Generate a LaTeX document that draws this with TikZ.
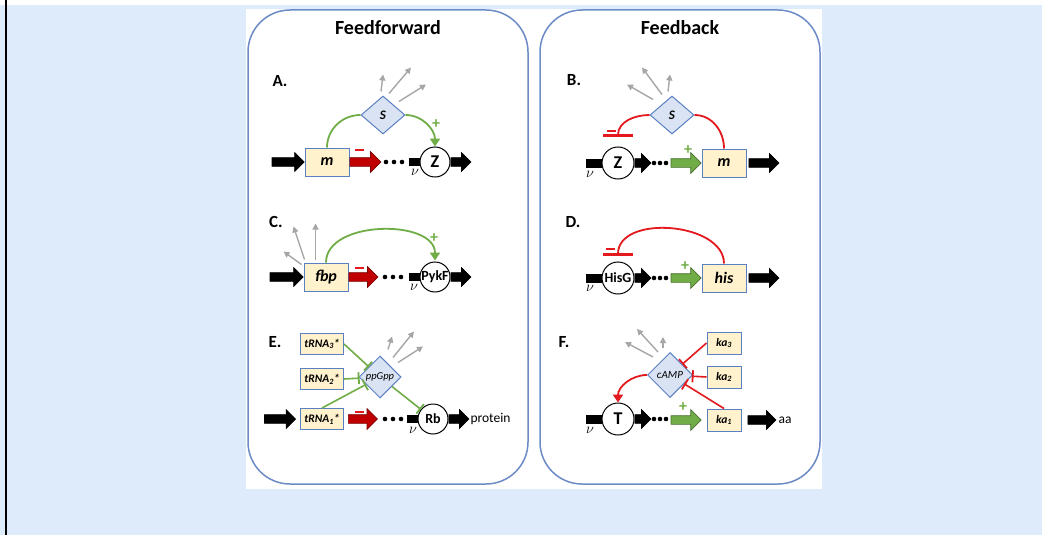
\documentclass[tikz,border=0pt]{standalone}
\usepackage{fontspec}
\setmainfont{Carlito}
\usetikzlibrary{shapes.geometric,shapes.arrows,arrows.meta}

\definecolor{pagebg}{HTML}{DDEBFB}
\definecolor{frameblue}{HTML}{6D8BC6}
\definecolor{genefill}{HTML}{FFF2CC}
\definecolor{geneline}{HTML}{5B80C2}
\definecolor{sigfill}{HTML}{DAE3F3}
\definecolor{actgreen}{HTML}{70AD47}
\definecolor{repred}{HTML}{E3191E}
\definecolor{arrowred}{HTML}{C00000}
\definecolor{decaygray}{HTML}{A6A6A6}

\tikzset{
  paneltitle/.style={font=\fontsize{20}{24}\selectfont\bfseries},
  panellabel/.style={font=\fontsize{17}{20}\selectfont\bfseries},
  gene/.style={rectangle, draw=geneline, fill=genefill, line width=1pt, minimum width=44pt, minimum height=28pt, inner sep=0pt, font=\fontsize{16}{18}\selectfont\bfseries\itshape},
  tag/.style={gene, minimum width=43pt, minimum height=21pt, font=\fontsize{11.5}{12}\selectfont\bfseries\itshape},
  metab/.style={diamond, draw=geneline, fill=sigfill, line width=1pt, inner sep=0pt, minimum width=44pt, minimum height=38pt, font=\fontsize{13}{14}\selectfont\bfseries\itshape},
  enzyme/.style={circle, draw, fill=white, line width=1pt, inner sep=0pt, minimum size=30pt, font=\fontsize{18}{20}\selectfont\bfseries},
  fat/.style={single arrow, single arrow head extend=5pt, inner xsep=0pt, inner ysep=4pt, line width=0.7pt},
  fatblk/.style={fat, fill=black, draw=black},
  fatred/.style={fat, single arrow head extend=6pt, fill=arrowred, draw=arrowred!65!black},
  fatgrn/.style={fat, single arrow head extend=6pt, fill=actgreen, draw=actgreen!65!black},
  link/.style={line width=1.8pt},
  act/.style={link, -{Triangle[width=10pt,length=8pt]}},
  inh/.style={link, -{Bar[width=30pt,line width=2.2pt]}},
  inhsmall/.style={line width=1.6pt, -{Bar[width=12pt,line width=1.8pt]}},
  decay/.style={decaygray, line width=1.4pt, -{Triangle[width=6pt,length=6pt]}},
  plussign/.style={text=actgreen, inner sep=0pt, font=\fontsize{16}{16}\selectfont\bfseries},
  minussign/.style={fill=repred, inner sep=0pt, minimum width=9pt, minimum height=2.6pt},
  rate/.style={inner sep=0pt, font=\fontsize{14}{14}\selectfont},
}

\begin{document}
\begin{tikzpicture}[x=1pt, y=-1pt]
    \useasboundingbox (0,0) rectangle (1042,535);
    \fill[white] (0,0) rectangle (1042,535);
    \fill[pagebg] (0,5) rectangle (1042,535);
    \draw[line width=2pt] (6,0) -- (6,535);
    \fill[white] (246,9) rectangle (822,489);
    \draw[frameblue, line width=1.5pt, rounded corners=42pt] (248,10) rectangle (528,484);
    \draw[frameblue, line width=1.5pt, rounded corners=42pt] (540,10) rectangle (820,484);
    \node[paneltitle] (ffTitle) at (388,28) {Feedforward};
    \node[paneltitle] (fbTitle) at (680,28) {Feedback};

    % A: m feeds forward through S onto Z
    \node[panellabel] (labA) at (280,81) {A.};
    \node[gene] (mA) at (327,162) {m};
    \node[metab] (sA) at (383,115) {S};
    \node[enzyme] (zA) at (435,162) {Z};
    \node[fatblk, minimum height=32pt, anchor=tip] (inA) at (mA.west) {};
    \node[fatred, minimum height=31pt, anchor=tail] (redA) at (mA.east) {};
    \coordinate (dA) at (394,162);
    \fill ([shift={(-11,-4)}]zA.west) rectangle ([shift={(0,4)}]zA.west);
    \node[fatblk, minimum height=20pt, anchor=tail] (outA) at (zA.east) {};
    \node[rate] (nuA) at (415,172) {$\nu$};
    \node[minussign] (negA) at (359,150) {};
    \node[plussign] (posA) at (436,124) {+};
    \draw[actgreen, link] (mA.north) to[out=90, in=180] (sA.west);
    \draw[actgreen, act] (sA.east) to[out=0, in=90] (zA.north);
    \foreach \dx in {-8,0,8} \fill ([shift={(\dx,0)}]dA) circle (2.3);
    \draw[decay] ([shift={(-2,-4)}]sA.north) -- ++(2,-17);
    \draw[decay] ([shift={(6,-2)}]sA.north) -- ++(22,-26);
    \draw[decay] ([shift={(16,6)}]sA.north) -- ++(27,-17);

    % B: Z feeds back through S onto m
    \node[panellabel] (labB) at (574,80) {B.};
    \node[metab] (sB) at (672,115) {S};
    \node[enzyme, minimum size=32pt] (zB) at (618,163) {Z};
    \node[gene] (mB) at (724,163) {m};
    \fill ([shift={(-16,-4.5)}]zB.west) rectangle ([shift={(0,4.5)}]zB.west);
    \node[fatblk, minimum height=16pt, anchor=tail] (midB) at (zB.east) {};
    \coordinate (dB) at (660,163);
    \node[fatgrn, minimum height=30pt, anchor=tip] (grnB) at (mB.west) {};
    \node[fatblk, minimum height=30pt, anchor=tail] (outB) at ([shift={(2,0)}]mB.east) {};
    \node[rate] (nuB) at (590,174) {$\nu$};
    \node[minussign] (negB) at (611,131) {};
    \node[plussign] (posB) at (688,150) {+};
    \draw[repred, inh] (sB.west) to[out=180, in=90] ([shift={(0,-10)}]zB.north);
    \draw[repred, link] (sB.east) to[out=0, in=90] (mB.north);
    \foreach \dx in {-6,0,6} \fill ([shift={(\dx,0)}]dB) circle (2.3);
    \draw[decay] ([shift={(-4,-4)}]sB.north) -- ++(2,-17);
    \draw[decay] ([shift={(-10,-1)}]sB.north) -- ++(-20,-27);
    \draw[decay] ([shift={(-19,4)}]sB.north) -- ++(-26,-15);

    % C: fbp activates PykF
    \node[panellabel] (labC) at (276,222) {C.};
    \node[gene] (fbp) at (326,277) {fbp};
    \node[enzyme, font=\fontsize{14}{14}\selectfont\bfseries] (pykF) at (435,277) {PykF};
    \node[fatblk, minimum height=33pt, anchor=tip] (inC) at (fbp.west) {};
    \node[fatred, minimum height=29pt, anchor=tail] (redC) at (fbp.east) {};
    \coordinate (dC) at (393,277);
    \fill ([shift={(-11,-4)}]pykF.west) rectangle ([shift={(0,4)}]pykF.west);
    \node[fatblk, minimum height=20pt, anchor=tail] (outC) at (pykF.east) {};
    \node[rate] (nuC) at (414,287) {$\nu$};
    \node[minussign] (negC) at (359,268) {};
    \node[plussign] (posC) at (434,238) {+};
    \draw[actgreen, act, shorten >=1pt] (fbp.north) to[out=90, in=90] (pykF.north);
    \foreach \dx in {-8,0,8} \fill ([shift={(\dx,0)}]dC) circle (2.3);
    \draw[decay] ([shift={(-2,2)}]fbp.north west) -- ++(-18,-13);
    \draw[decay] ([shift={(1,-3)}]fbp.north west) -- ++(-11,-33);
    \draw[decay] ([shift={(12,-3)}]fbp.north west) -- ++(0,-36);

    % D: HisG represses the his operon
    \node[panellabel] (labD) at (573,222) {D.};
    \node[enzyme, minimum size=32pt, font=\fontsize{14}{14}\selectfont\bfseries] (hisG) at (618,278) {HisG};
    \node[gene] (his) at (724,278) {his};
    \fill ([shift={(-16,-4.5)}]hisG.west) rectangle ([shift={(0,4.5)}]hisG.west);
    \node[fatblk, minimum height=16pt, anchor=tail] (midD) at (hisG.east) {};
    \coordinate (dD) at (660,278);
    \node[fatgrn, minimum height=30pt, anchor=tip] (grnD) at (his.west) {};
    \node[fatblk, minimum height=30pt, anchor=tail] (outD) at ([shift={(2,0)}]his.east) {};
    \node[rate] (nuD) at (590,288) {$\nu$};
    \node[minussign] (negD) at (610,249) {};
    \node[plussign] (posD) at (685,266) {+};
    \draw[repred, inh] (his.north) to[out=90, in=90] ([shift={(0,-6)}]hisG.north);
    \foreach \dx in {-6,0,6} \fill ([shift={(\dx,0)}]dD) circle (2.3);

    % E: charged tRNAs set ppGpp, which acts on the ribosome
    \node[panellabel] (labE) at (275,342) {E.};
    \node[tag] (t3) at (322,344) {tRNA\textsubscript{3}*};
    \node[tag] (t2) at (322,379) {tRNA\textsubscript{2}*};
    \node[tag] (t1) at (322,419) {tRNA\textsubscript{1}*};
    \node[metab, minimum width=42pt, minimum height=42pt, font=\fontsize{10.5}{11}\selectfont\itshape] (ppG) at (380,377) {ppGpp};
    \node[enzyme, font=\fontsize{14}{14}\selectfont\bfseries] (rb) at (433,419) {Rb};
    \node[fatblk, minimum height=31pt, anchor=tip] (inE) at ([shift={(-4,0)}]t1.west) {};
    \node[fatred, minimum height=29pt, anchor=tail] (redE) at ([shift={(4,0)}]t1.east) {};
    \coordinate (dE) at (393,419);
    \fill ([shift={(-11,-4)}]rb.west) rectangle ([shift={(0,4)}]rb.west);
    \node[fatblk, minimum height=20pt, anchor=tail] (outE) at (rb.east) {};
    \node[anchor=west, inner sep=1pt, font=\fontsize{13.5}{14}\selectfont] (prot) at (outE.tip) {protein};
    \node[rate] (nuE) at (413,430) {$\nu$};
    \node[minussign] (negE) at (359,412) {};
    \draw[actgreen, inhsmall] (t3.east) -- (ppG);
    \draw[actgreen, inhsmall] (t2.east) -- (ppG);
    \draw[actgreen, inhsmall] (t1.north) -- (ppG);
    \draw[actgreen, inhsmall] (ppG) -- (rb);
    \foreach \dx in {-8,0,8} \fill ([shift={(\dx,0)}]dE) circle (2.3);
    \draw[decay] ([shift={(8,-6)}]ppG.north) -- ++(4,-13);
    \draw[decay] ([shift={(13,2)}]ppG.north) -- ++(21,-26);
    \draw[decay] ([shift={(18,7)}]ppG.north) -- ++(25,-16);

    % F: amino acid pools set cAMP, which acts on the transporter
    \node[panellabel] (labF) at (564,342) {F.};
    \node[tag, minimum width=34pt, minimum height=22pt] (k3) at (724,343) {ka\textsubscript{3}};
    \node[tag, minimum width=34pt, minimum height=22pt] (k2) at (724,377) {ka\textsubscript{2}};
    \node[tag, minimum width=34pt, minimum height=22pt] (k1) at (724,420) {ka\textsubscript{1}};
    \node[metab, minimum width=45pt, minimum height=45pt, font=\fontsize{11}{12}\selectfont\itshape] (camp) at (670,375) {cAMP};
    \node[enzyme, minimum size=32pt] (tF) at (618,419) {T};
    \fill ([shift={(-16,-4.5)}]tF.west) rectangle ([shift={(0,4.5)}]tF.west);
    \node[fatblk, minimum height=16pt, anchor=tail] (midF) at (tF.east) {};
    \coordinate (dF) at (660,419);
    \node[fatgrn, minimum height=30pt, anchor=tip] (grnF) at ([shift={(-5,0)}]k1.west) {};
    \node[fatblk, minimum height=28pt, anchor=tail] (outF) at ([shift={(6,0)}]k1.east) {};
    \node[anchor=west, inner sep=2pt, font=\fontsize{13.5}{14}\selectfont] (aa) at (outF.tip) {aa};
    \node[rate] (nuF) at (590,430) {$\nu$};
    \node[plussign] (posF) at (683,407) {+};
    \draw[repred, inhsmall] (k3.west) -- (camp);
    \draw[repred, inhsmall] (k2.west) -- (camp);
    \draw[repred, inhsmall] (k1.north) -- (camp);
    \draw[repred, act] (camp.west) to[out=180, in=90] (tF.north);
    \foreach \dx in {-6,0,6} \fill ([shift={(\dx,0)}]dF) circle (2.3);
    \draw[decay] ([shift={(-7,-4)}]camp.north) -- ++(0,-11);
    \draw[decay] ([shift={(-12,0)}]camp.north) -- ++(-21,-23);
    \draw[decay] ([shift={(-17,5)}]camp.north) -- ++(-28,-15);
\end{tikzpicture}
\end{document}
